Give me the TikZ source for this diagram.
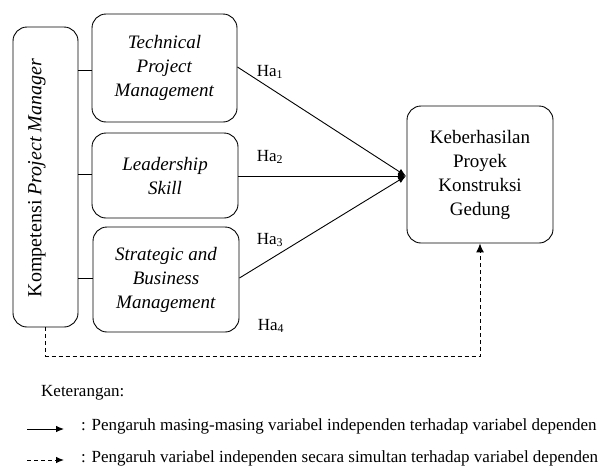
\documentclass[tikz,border=0pt]{standalone}
\usepackage{fontspec}
\setmainfont{Liberation Serif}
\usetikzlibrary{arrows.meta}
\begin{document}
\begin{tikzpicture}[x=1pt,y=-1pt,
  box/.style={draw,line width=0.9pt,rounded corners=14pt,align=center,inner sep=0pt,
    font=\fontsize{19}{24}\selectfont},
  conn/.style={line width=0.9pt},
  arr/.style={line width=0.9pt,-{Latex[length=8pt,width=6.5pt]}},
  dsh/.style={line width=1pt,dash pattern=on 4pt off 3pt},
  lbl/.style={font=\fontsize{17}{20}\selectfont,inner sep=0pt},
  leg/.style={font=\fontsize{17}{20}\selectfont,inner sep=0pt,anchor=west}]
\useasboundingbox (0,0) rectangle (602,474);
\node[box,minimum width=65pt,minimum height=300pt] (kpm) at (45.5,177) {};
\node[rotate=90,inner sep=0pt,font=\fontsize{20}{24}\selectfont] (kpmt) at (37,178) {Kompetensi \textit{Project Manager}};
\node[box,minimum width=145pt,minimum height=108pt] (tech) at (164.5,68) {\textit{Technical}\\\textit{Project}\\\textit{Management}};
\node[box,minimum width=146pt,minimum height=85pt] (lead) at (165,175.5) {\textit{Leadership}\\\textit{Skill}};
\node[box,minimum width=146pt,minimum height=105pt] (strat) at (166,279.5) {\textit{Strategic and}\\\textit{Business}\\\textit{Management}};
\node[box,minimum width=146pt,minimum height=137pt] (dep) at (480,174.5) {Keberhasilan\\Proyek\\Konstruksi\\Gedung};
\coordinate (tip) at (406,176);
\draw[conn] (kpm.east |- 0,70) coordinate (k1) -- (k1 -| tech.west);
\draw[conn] (kpm.east |- 0,174) coordinate (k2) -- (k2 -| lead.west);
\draw[conn] (kpm.east |- 0,278) coordinate (k3) -- (k3 -| strat.west);
\draw[arr] (tech.east |- 0,67) -- (tip);
\draw[arr] (lead.east |- 0,176) -- (tip);
\draw[arr] (strat.east |- 0,278) -- (tip);
\draw[dsh,-{Latex[length=9pt,width=8pt]}] (kpm.south) -- ++(0,29) -| (dep.south);
\node[lbl] (h1) at (270,72) {Ha\textsubscript{1}};
\node[lbl] (h2) at (270,157) {Ha\textsubscript{2}};
\node[lbl] (h3) at (270,240) {Ha\textsubscript{3}};
\node[lbl] (h4) at (271,326) {Ha\textsubscript{4}};
\node[leg] (ket) at (41,393) {Keterangan:};
\coordinate (s1) at (27,429);
\coordinate (s2) at (64,429);
\draw[arr] (s1) -- (s2);
\node[leg] (t1) at (81,426) {: Pengaruh masing-masing variabel independen terhadap variabel dependen};
\coordinate (d1) at (27,460);
\coordinate (d2) at (64,460);
\draw[dsh,-{Latex[length=8pt,width=6.5pt]}] (d1) -- (d2);
\node[leg] (t2) at (81,458) {: Pengaruh variabel independen secara simultan terhadap variabel dependen};
\end{tikzpicture}
\end{document}
